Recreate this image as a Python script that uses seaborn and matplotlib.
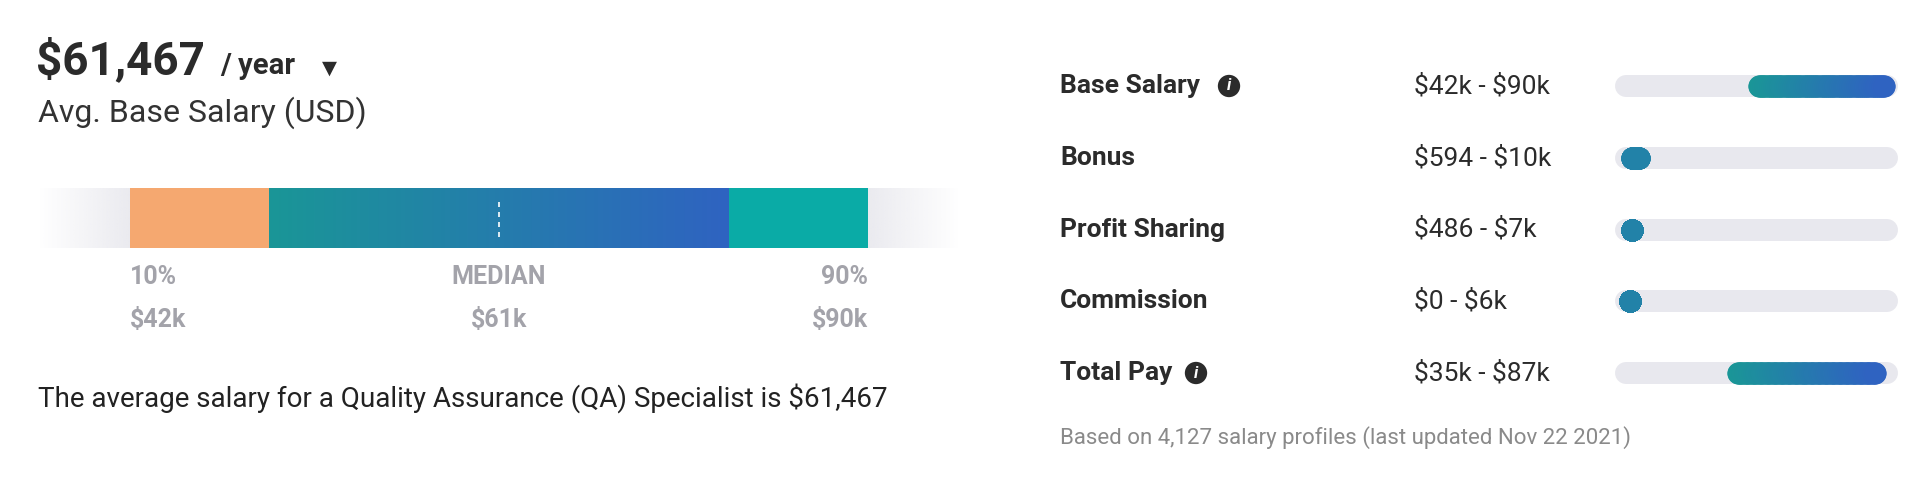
import numpy as np
import matplotlib
matplotlib.use("Agg")
import matplotlib.pyplot as plt
from matplotlib.colors import LinearSegmentedColormap, to_rgba
import seaborn as sns

sns.set_theme(style="white", font="Roboto")
plt.rcParams["text.parse_math"] = False

# ---- data ----
avg_salary = "$61,467"
pct_labels = ["10%", "MEDIAN", "90%"]
pct_values = ["$42k", "$61k", "$90k"]
pct_positions = [10, 50, 90]
segment_edges = [10, 25, 75, 90]   # percentile edges of the coloured bar segments

comp_names = ["Base Salary", "Bonus", "Profit Sharing", "Commission", "Total Pay"]
comp_info = [True, False, False, False, True]
comp_ranges = ["$42k - $90k", "$594 - $10k", "$486 - $7k", "$0 - $6k", "$35k - $87k"]
comp_low = [42, 0.594, 0.486, 0, 35]      # $k
comp_high = [90, 10, 7, 6, 87]            # $k
scale_min, scale_max = -1.4, 90.9

W, H = 1924, 478
fig = plt.figure(figsize=(W / 100, H / 100), dpi=100)
fig.patch.set_facecolor("white")

def fx(px): return px / W
def fy(py): return 1 - py / H

dark = "#2b2b2b"
grey = "#a3a3aa"
grad = LinearSegmentedColormap.from_list("g", ["#1a9697", "#2f63c1"])

# ---- header text ----
fig.text(fx(36), fy(60), avg_salary, fontsize=33, fontweight="bold", color=dark, va="center")
fig.text(fx(220), fy(66), "/ year", fontsize=21, fontweight="bold", color=dark, va="center")
fig.text(fx(322), fy(68), "\u25BC", fontsize=14, color=dark, va="center", family="DejaVu Sans")
fig.text(fx(38), fy(113), "Avg. Base Salary (USD)", fontsize=23, color="#333333", va="center")
fig.text(fx(38), fy(398), "The average salary for a Quality Assurance (QA) Specialist is " + avg_salary,
         fontsize=20, color="#222222", va="center")

# ---- left percentile bar ----
ax = fig.add_axes([fx(38), fy(248), fx(922), 60 / H])
ax.set_xlim(0, 100); ax.set_ylim(0, 1); ax.axis("off")
n = 400
xs = np.linspace(0, 100, n)
alpha = np.clip(np.minimum(xs / 12, (100 - xs) / 12), 0, 1)
bg = np.zeros((1, n, 4)); bg[..., :3] = to_rgba("#e6e6ec")[:3]; bg[0, :, 3] = alpha
ax.imshow(bg, extent=[0, 100, 0, 1], aspect="auto", zorder=0)
ax.axvspan(segment_edges[0], segment_edges[1], color="#f5a870", zorder=1, lw=0)
gimg = np.linspace(0, 1, 256)[None, :]
ax.imshow(gimg, cmap=grad, extent=[segment_edges[1], segment_edges[2], 0, 1], aspect="auto", zorder=1)
ax.axvspan(segment_edges[2], segment_edges[3], color="#0aaba6", zorder=1, lw=0)
ax.plot([pct_positions[1]] * 2, [0.18, 0.82], color="white", lw=1.2, ls=(0, (3, 3)), zorder=2)
for lab, val, pos, ha in zip(pct_labels, pct_values, pct_positions, ["left", "center", "right"]):
    ax.text(pos, -0.48, lab, ha=ha, va="center", fontsize=18, fontweight="bold", color=grey, clip_on=False)
    ax.text(pos, -1.2, val, ha=ha, va="center", fontsize=18, fontweight="bold", color=grey, clip_on=False)
ax.set_xlim(0, 100)

# ---- right component bars ----
row_px = 71.75
top_px = 86 - row_px / 2
axr = fig.add_axes([fx(1615), fy(top_px + 5 * row_px), fx(283), 5 * row_px / H])
axr.set_xlim(scale_min, scale_max); axr.set_ylim(4.5, -0.5); axr.axis("off")
lw_px = 22
lw_pt = lw_px * 72 / 100
cap = (lw_px / 2) / 283 * (scale_max - scale_min)
info_x = {"Base Salary": 1229, "Total Pay": 1196}
for i, (name, info, rng, lo, hi) in enumerate(zip(comp_names, comp_info, comp_ranges, comp_low, comp_high)):
    ypx = 86 + i * row_px
    fig.text(fx(1060), fy(ypx), name, fontsize=19, fontweight="bold", color=dark, va="center")
    if info:
        fig.text(fx(info_x[name]), fy(ypx), "i", fontsize=12, fontweight="bold", color="white", va="center",
                 ha="center", style="italic",
                 bbox=dict(boxstyle="circle,pad=0.22", fc=dark, ec="none"))
    fig.text(fx(1414), fy(ypx), rng, fontsize=19, color=dark, va="center")
    axr.plot([scale_min + cap, scale_max - cap], [i, i], color="#e8e8ee", lw=lw_pt,
             solid_capstyle="round", zorder=1)
    a = lo + cap
    b = max(hi - cap, a)
    segs = np.linspace(a, b, 60)
    for j, sx in enumerate(segs):
        c = grad(j / 59) if b - a > 5 else grad(0.4)
        axr.plot([sx, sx], [i, i], color=c, lw=lw_pt, solid_capstyle="round",
                 marker="o", ms=lw_pt, mec="none", mfc=c, zorder=2)

fig.text(fx(1060), fy(438), "Based on 4,127 salary profiles (last updated Nov 22 2021)",
         fontsize=16, color="#8a8a8a", va="center")

fig.savefig("out.png", dpi=100, facecolor="white")
